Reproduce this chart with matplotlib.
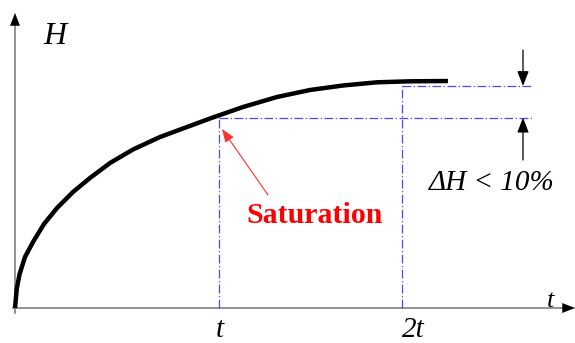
import numpy as np
import matplotlib
matplotlib.use('Agg')
import matplotlib.pyplot as plt

plt.rcParams['font.family'] = ['Liberation Serif', 'DejaVu Serif']

# Curve (time, H) in arbitrary units
curve_t = np.array([0, 1.8, 4.6, 10, 18, 29, 42, 58, 75, 95, 118, 145, 172,
                    195, 228, 262, 295, 328, 362, 395, 433])
curve_h = np.array([0, 19.5, 34, 51, 66, 84, 100, 116, 130, 145, 158.5, 171,
                    181, 189.5, 201, 211, 218, 222.5, 225.7, 226.7, 227])

# Marked times and their H levels
mark_t = [203.7, 386.7]
mark_h = [190.3, 222]
mark_labels = ['t', '2t']
level_end = 517

fig = plt.figure(figsize=(5.75, 3.43), dpi=100)
ax = fig.add_axes([0, 0, 1, 1])
ax.set_xlim(-15, 560)
ax.set_ylim(-35, 308)
ax.axis('off')

# Axes with arrow heads
ax.plot([-2, 552], [0, 0], color='#808080', lw=1.2)
ax.plot([0, 0], [-5, 285], color='#808080', lw=1.2)
ax.annotate('', xy=(560, 0), xytext=(548, 0),
            arrowprops=dict(arrowstyle='-|>,head_length=0.9,head_width=0.35',
                            color='black', lw=0.1, shrinkA=0, shrinkB=0))
ax.annotate('', xy=(0, 295), xytext=(0, 283),
            arrowprops=dict(arrowstyle='-|>,head_length=0.9,head_width=0.35',
                            color='black', lw=0.1, shrinkA=0, shrinkB=0))

# Dash-dot guide lines
blue = '#4a4aff'
for tx, hy in zip(mark_t, mark_h):
    ax.plot([tx, tx], [0, hy], color=blue, lw=0.9, dashes=(7, 2, 1, 2))
    ax.plot([tx, level_end], [hy, hy], color=blue, lw=0.9, dashes=(7, 2, 1, 2))

# Saturation curve
ax.plot(curve_t, curve_h, color='black', lw=3.2, solid_capstyle='butt',
        solid_joinstyle='round')

# Delta H arrows
arrow_x = 508
ax.annotate('', xy=(arrow_x, mark_h[1]), xytext=(arrow_x, 258),
            arrowprops=dict(arrowstyle='-|>,head_length=0.9,head_width=0.35',
                            color='black', lw=0.9, shrinkA=0, shrinkB=0))
ax.annotate('', xy=(arrow_x, mark_h[0]), xytext=(arrow_x, 148),
            arrowprops=dict(arrowstyle='-|>,head_length=0.9,head_width=0.35',
                            color='black', lw=0.9, shrinkA=0, shrinkB=0))
ax.text(477, 118, r'ΔH < 10%', fontsize=21, style='italic',
        ha='center', va='baseline')

# Saturation label with red arrow
ax.annotate('', xy=(207, 179), xytext=(253, 113),
            arrowprops=dict(arrowstyle='-|>,head_length=0.8,head_width=0.3',
                            color='#ff3030', lw=0.8, shrinkA=0, shrinkB=0))
ax.text(299.5, 85, 'Saturation', fontsize=21.5, fontweight='bold',
        color='#ff0000', ha='center', va='baseline')

# Axis labels
ax.text(40, 272, 'H', fontsize=23, style='italic', ha='center', va='center')
ax.text(536, 1, 't', fontsize=19, style='italic', ha='center', va='baseline')
for tx, lab in zip(mark_t, mark_labels):
    ax.text(tx + (12 if lab == '2t' else 1), -29, lab, fontsize=21,
            style='italic', ha='center', va='baseline')

fig.savefig('out.png', dpi=100)
